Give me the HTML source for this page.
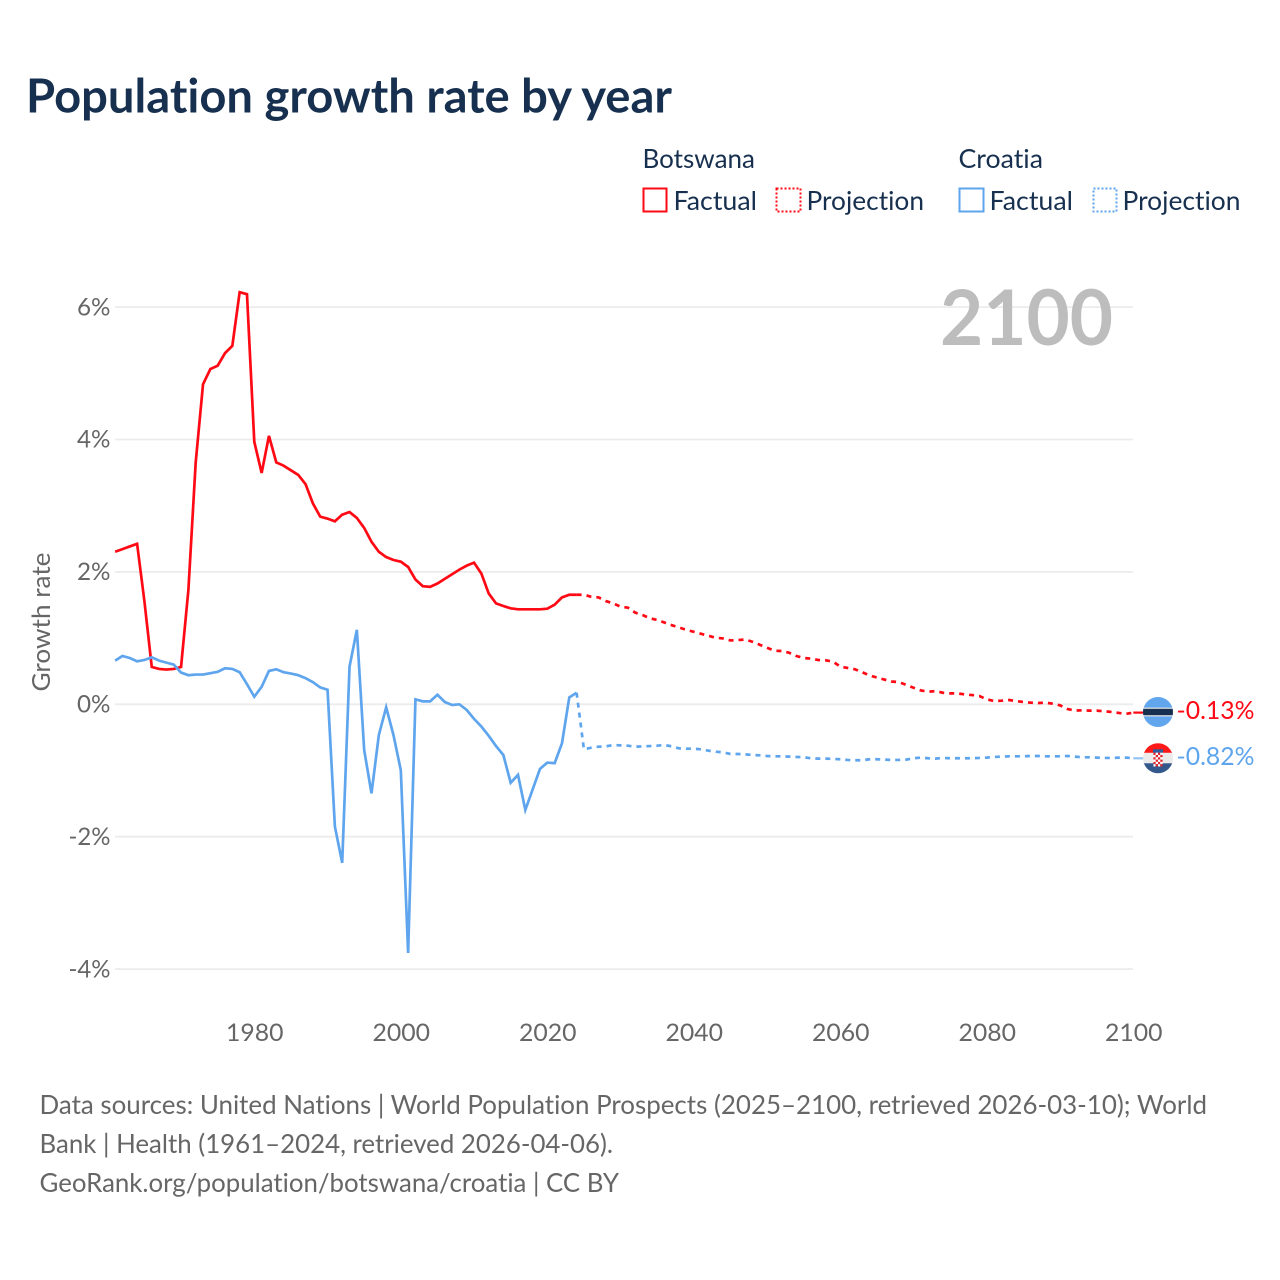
<!DOCTYPE html>
<html lang="en">
<head>
<meta charset="utf-8">
<title>Population growth rate by year</title>
<style>
html,body{margin:0;padding:0;background:#fff;}
svg{display:block;}
text{font-family:Lato,Carlito,"Liberation Sans",sans-serif;font-variant-ligatures:none;}
</style>
</head>
<body>
<svg id="chart" xmlns="http://www.w3.org/2000/svg" width="1280" height="1280" viewBox="0 0 1280 1280">
  <rect width="1280" height="1280" fill="#ffffff"/>
  <text x="26" y="112.5" font-size="46.5" font-weight="700" fill="#17304f" textLength="646" lengthAdjust="spacingAndGlyphs">Population growth rate by year</text>

  <g font-size="26" fill="#17304f">
    <text x="642.5" y="168" textLength="112.5" lengthAdjust="spacingAndGlyphs">Botswana</text>
    <rect x="643.5" y="188.5" width="23" height="23" fill="none" stroke="#ff0a14" stroke-width="2"/>
    <text x="673.5" y="210" textLength="83.5" lengthAdjust="spacingAndGlyphs">Factual</text>
    <rect x="776.5" y="188.5" width="24" height="23" fill="none" stroke="#ff0a14" stroke-width="2" stroke-dasharray="2 2"/>
    <text x="806.5" y="210" textLength="117.5" lengthAdjust="spacingAndGlyphs">Projection</text>
    <text x="958.5" y="168" textLength="84.5" lengthAdjust="spacingAndGlyphs">Croatia</text>
    <rect x="959.5" y="188.5" width="24" height="23" fill="none" stroke="#5ea5ee" stroke-width="2"/>
    <text x="989.5" y="210" textLength="83.5" lengthAdjust="spacingAndGlyphs">Factual</text>
    <rect x="1093.5" y="188.5" width="23" height="23" fill="none" stroke="#5ea5ee" stroke-width="2" stroke-dasharray="2 2"/>
    <text x="1122.5" y="210" textLength="118" lengthAdjust="spacingAndGlyphs">Projection</text>
  </g>

  <g id="grid"></g>
  <text x="940" y="345" font-size="77" font-weight="700" fill="#bdbdbd" textLength="173" lengthAdjust="spacingAndGlyphs">2100</text>
  <g id="y-axis"></g>
  <g id="x-axis"></g>
  <text transform="translate(50,622) rotate(-90)" text-anchor="middle" font-size="25.5" fill="#666666" textLength="139" lengthAdjust="spacingAndGlyphs">Growth rate</text>
  <g id="series"></g>
  <g id="end-markers"></g>

  <g font-size="26.5" fill="#666666">
    <text x="39.5" y="1114" textLength="1167.5" lengthAdjust="spacingAndGlyphs">Data sources: United Nations | World Population Prospects (2025–2100, retrieved 2026-03-10); World</text>
    <text x="39.5" y="1153" textLength="573.5" lengthAdjust="spacingAndGlyphs">Bank | Health (1961–2024, retrieved 2026-04-06).</text>
    <text x="39.5" y="1192" textLength="579.5" lengthAdjust="spacingAndGlyphs">GeoRank.org/population/botswana/croatia | CC BY</text>
  </g>
</svg>

<script>
const factualStartYear = 1961;
const projectionStartYear = 2025;

const botswanaFactual = [
  2.30,2.34,2.38,2.42,1.55,0.56,0.53,0.52,0.53,0.56,
  1.72,3.65,4.83,5.06,5.11,5.30,5.41,6.22,6.19,3.96,
  3.49,4.05,3.65,3.60,3.53,3.46,3.32,3.03,2.83,2.80,
  2.76,2.86,2.90,2.81,2.66,2.45,2.30,2.22,2.175,2.15,
  2.07,1.88,1.78,1.77,1.82,1.89,1.96,2.03,2.09,2.135,
  1.97,1.67,1.52,1.48,1.445,1.43,1.43,1.43,1.43,1.44,
  1.50,1.61,1.65,1.65
];
const botswanaProjection = [
  1.65,1.62,1.61,1.555,1.52,1.47,1.455,1.38,1.345,1.295,
  1.27,1.23,1.19,1.155,1.12,1.09,1.06,1.03,1.00,0.99,
  0.96,0.965,0.975,0.94,0.895,0.85,0.805,0.80,0.775,0.725,
  0.695,0.685,0.665,0.66,0.64,0.565,0.545,0.525,0.48,0.43,
  0.40,0.37,0.34,0.33,0.29,0.245,0.205,0.185,0.195,0.17,
  0.16,0.16,0.145,0.135,0.12,0.07,0.045,0.05,0.06,0.045,
  0.03,0.02,0.015,0.02,0.005,-0.02,-0.075,-0.10,-0.095,-0.10,
  -0.10,-0.11,-0.12,-0.135,-0.15,-0.13
];
const croatiaFactual = [
  0.655,0.725,0.695,0.645,0.665,0.705,0.655,0.625,0.595,0.475,
  0.435,0.445,0.445,0.465,0.485,0.54,0.53,0.48,0.30,0.11,
  0.26,0.50,0.525,0.48,0.46,0.435,0.39,0.33,0.25,0.215,
  -1.85,-2.40,0.565,1.12,-0.695,-1.35,-0.47,-0.05,-0.47,-1.00,
  -3.76,0.07,0.04,0.04,0.14,0.03,-0.015,-0.005,-0.09,-0.225,
  -0.34,-0.48,-0.635,-0.77,-1.19,-1.07,-1.60,-1.29,-0.98,-0.885,
  -0.895,-0.595,0.10,0.17
];
const croatiaProjection = [
  -0.685,-0.66,-0.645,-0.64,-0.62,-0.625,-0.63,-0.645,-0.64,-0.635,
  -0.63,-0.62,-0.64,-0.67,-0.675,-0.675,-0.685,-0.705,-0.72,-0.73,
  -0.755,-0.755,-0.76,-0.77,-0.775,-0.785,-0.79,-0.79,-0.795,-0.80,
  -0.805,-0.82,-0.825,-0.825,-0.83,-0.835,-0.845,-0.85,-0.85,
  -0.835,-0.835,-0.84,-0.845,-0.845,-0.84,-0.82,-0.81,-0.82,-0.825,
  -0.815,-0.82,-0.82,-0.82,-0.82,-0.815,-0.81,-0.80,-0.795,-0.79,
  -0.79,-0.79,-0.785,-0.785,-0.79,-0.79,-0.79,-0.785,-0.795,-0.805,
  -0.805,-0.81,-0.815,-0.815,-0.81,-0.81,-0.82
];
const yTicks = [6,4,2,0,-2,-4];
const xTicks = [1980,2000,2020,2040,2060,2080,2100];

const SVGNS = 'http://www.w3.org/2000/svg';
function xScale(year){ return 254.3 + (year - 1980) * 7.325; }
function yScale(value){ return 704 - value * 66.2; }
function make(tag, parent, props){
  const el = document.createElementNS(SVGNS, tag);
  for (const k in props) el.setAttribute(k, props[k]);
  parent.appendChild(el);
  return el;
}
function linePoints(startYear, values){
  return values.map(function(v, i){
    return xScale(startYear + i).toFixed(2) + ',' + yScale(v).toFixed(2);
  });
}

const gridGroup = document.getElementById('grid');
const yAxisGroup = document.getElementById('y-axis');
yTicks.forEach(function(t){
  const gl = make('line', gridGroup, {x1:115, x2:1133, y1:yScale(t)+0.3, y2:yScale(t)+0.3, stroke:'#ececec', 'stroke-width':1.8});
  
  
  const label = make('text', yAxisGroup, {x:110.5, y:yScale(t)+8.5, 'text-anchor':'end', 'font-size':24.5, fill:'#666666', textLength:t<0?42:33.5, lengthAdjust:'spacingAndGlyphs'});
  
  
  label.textContent = t + '%';
});

const xAxisGroup = document.getElementById('x-axis');
xTicks.forEach(function(t){
  const label = make('text', xAxisGroup, {x:xScale(t)+0.5, y:1041, 'text-anchor':'middle', 'font-size':24.5, fill:'#666666', textLength:57.5, lengthAdjust:'spacingAndGlyphs'});
  
  
  label.textContent = t;
});

const seriesGroup = document.getElementById('series');
const RED = '#ff0a14';
const BLUE = '#5ea5ee';

function drawSeries(factual, projection, color){
  const fPts = linePoints(factualStartYear, factual);
  const pPts = linePoints(projectionStartYear, projection);
  const lastF = fPts[fPts.length - 1];
  const f = make('polyline', seriesGroup, {points:fPts.join(' '), fill:'none', stroke:color, 'stroke-width':2.7, 'stroke-linejoin':'miter'});
  
  
  const p = make('polyline', seriesGroup, {points:lastF + ' ' + pPts.join(' '), fill:'none', stroke:color, 'stroke-width':2.7, 'stroke-dasharray':'5 5'});
  
  
}
drawSeries(botswanaFactual, botswanaProjection, RED);
drawSeries(croatiaFactual, croatiaProjection, BLUE);

const markerGroup = document.getElementById('end-markers');
const defs = make('defs', markerGroup, {});
const endX = xScale(2100);
const flagX = 1158;

function endValue(arr){ return arr[arr.length - 1]; }
function clipFor(id, cy){
  const cp = make('clipPath', defs, {id:id});
  make('circle', cp, {cx:flagX, cy:cy, r:15});
}
function connector(value, color, opacity, name){
  const c = make('line', markerGroup, {x1:endX, x2:flagX-14, y1:yScale(value), y2:yScale(value), stroke:color, 'stroke-width':2.2, opacity:opacity});
  
  
}
connector(endValue(botswanaProjection), RED, 1, 'botswana-connector');
connector(endValue(croatiaProjection), BLUE, 0.65, 'croatia-connector');

/* Botswana flag */
const bCy = yScale(endValue(botswanaProjection)) - 0.6;
clipFor('clip-bw', bCy);
const bw = make('g', markerGroup, {'clip-path':'url(#clip-bw)'});


make('rect', bw, {x:flagX-16, y:bCy-16, width:32, height:32, fill:'#62a7ee'});
make('rect', bw, {x:flagX-16, y:bCy-4.4, width:32, height:8.8, fill:'#e8e8e8'});
make('rect', bw, {x:flagX-16, y:bCy-3.2, width:32, height:6.4, fill:'#17304f'});

/* Croatia flag */
const cCy = yScale(endValue(croatiaProjection));
clipFor('clip-hr', cCy);
const hr = make('g', markerGroup, {'clip-path':'url(#clip-hr)'});


make('rect', hr, {x:flagX-16, y:cCy-16, width:32, height:11, fill:'#ff1a1a'});
make('rect', hr, {x:flagX-16, y:cCy-5.5, width:32, height:11, fill:'#ebebeb'});
make('rect', hr, {x:flagX-16, y:cCy+5, width:32, height:11, fill:'#34578c'});
make('rect', hr, {x:flagX-5, y:cCy-9, width:10, height:3.5, fill:'#2f5c9c'});
for (let r = 0; r < 6; r++) {
  for (let c = 0; c < 4; c++) {
    make('rect', hr, {x:flagX-4.6+c*2.3, y:cCy-5.6+r*2.3, width:2.3, height:2.3, fill:(r+c)%2 ? '#ffffff' : '#e3262e'});
  }
}

function endLabel(value, color, name){
  const t = make('text', markerGroup, {x:1176.5, y:yScale(value)+6.5, 'font-size':25.5, fill:color, textLength:78, lengthAdjust:'spacingAndGlyphs'});
  
  
  t.textContent = value.toFixed(2) + '%';
}
endLabel(endValue(botswanaProjection), RED, 'botswana-end-value');
endLabel(endValue(croatiaProjection), BLUE, 'croatia-end-value');
</script>
</body>
</html>
